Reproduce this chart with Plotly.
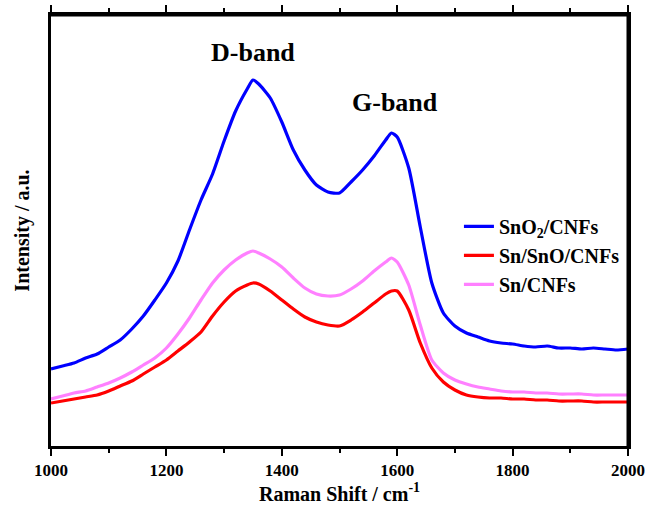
import plotly.graph_objects as go

# Raman shift (cm^-1)
raman_shift = [1000, 1020, 1040, 1060, 1080, 1100, 1120, 1140, 1160, 1180, 1200, 1220, 1240,
               1260, 1280, 1300, 1320, 1340, 1350, 1360, 1380, 1400, 1420, 1440, 1460, 1480,
               1500, 1520, 1540, 1560, 1580, 1590, 1600, 1620, 1640, 1660, 1680, 1700, 1720,
               1740, 1760, 1780, 1800, 1820, 1840, 1860, 1880, 1900, 1920, 1940, 1960, 1980, 2000]

# Intensities (a.u.)
sno2_cnfs = [77, 80, 83, 88, 92, 99, 106, 117, 130, 146, 163, 185, 216,
             246, 272, 305, 335, 357, 366, 362, 348, 324, 296, 276, 261, 254,
             253, 264, 276, 290, 306, 313, 309, 278, 219, 163, 133, 120, 113,
             109, 105, 103, 102, 100, 99, 100, 98, 98, 97, 98, 97, 96, 97]

sn_sno_cnfs = [43, 45, 47, 49, 51, 55, 60, 65, 72, 79, 86, 95, 104,
               114, 130, 144, 155, 161, 163, 162, 155, 146, 137, 129, 124, 121,
               120, 126, 134, 143, 152, 155, 155, 136, 103, 78, 64, 56, 51,
               49, 48, 48, 47, 47, 46, 46, 45, 45, 45, 44, 44, 44, 44]

sn_cnfs = [47, 50, 53, 55, 59, 63, 68, 74, 81, 88, 98, 112, 128,
           146, 163, 176, 186, 193, 195, 193, 187, 179, 168, 158, 152, 150,
           151, 157, 165, 175, 184, 188, 184, 161, 121, 86, 73, 66, 62,
           59, 57, 55, 54, 54, 53, 53, 52, 52, 52, 51, 51, 51, 51]

series_names = ["SnO<sub>2</sub>/CNFs", "Sn/SnO/CNFs", "Sn/CNFs"]
series_values = [sno2_cnfs, sn_sno_cnfs, sn_cnfs]
series_colors = ["#0000FF", "#FF0000", "#FF80FF"]

x_ticks = [1000, 1200, 1400, 1600, 1800, 2000]

FONT = "Liberation Serif, Times New Roman, serif"

fig = go.Figure()
for name, vals, col in zip(series_names, series_values, series_colors):
    fig.add_trace(go.Scatter(x=raman_shift, y=vals, mode="lines", name=name,
                             line=dict(color=col, width=3.2, shape="spline", smoothing=0.6)))

fig.add_annotation(x=1350, y=394, text="D-band", showarrow=False,
                   font=dict(family=FONT, size=26, color="black", weight="bold"))
fig.add_annotation(x=1596, y=344, text="G-band", showarrow=False,
                   font=dict(family=FONT, size=26, color="black", weight="bold"))

# plot frame: top and right edges
fig.add_shape(type="line", xref="paper", yref="paper", x0=0, x1=1, y0=1, y1=1,
              line=dict(color="black", width=3), layer="above")
fig.add_shape(type="line", xref="paper", yref="paper", x0=1, x1=1, y0=0, y1=1,
              line=dict(color="black", width=3), layer="above")

fig.update_layout(
    width=645, height=505,
    margin=dict(l=51, r=17, t=15, b=59, autoexpand=False),
    paper_bgcolor="white", plot_bgcolor="white",
    font=dict(family=FONT, color="black"),
    showlegend=True,
    legend=dict(x=0.707, y=0.555, xanchor="left", yanchor="top",
                bgcolor="rgba(0,0,0,0)",
                font=dict(family=FONT, size=20, color="black", weight="bold"),
                tracegroupgap=0),
    xaxis=dict(range=[1000, 2000], tickvals=x_ticks, automargin=False,
               showline=True, mirror="allticks", linecolor="black", linewidth=3,
               ticks="outside", ticklen=7, tickwidth=2, tickcolor="black",
               minor=dict(dtick=100, ticks="outside", ticklen=4, tickwidth=2, tickcolor="black"),
               showgrid=False, zeroline=False,
               tickfont=dict(family=FONT, size=17, color="black", weight="bold"),
               title=dict(text="Raman Shift / cm<sup>-1</sup>", standoff=6,
                          font=dict(family=FONT, size=20, color="black", weight="bold"))),
    yaxis=dict(range=[0, 431], showline=True, mirror=True, linecolor="black", linewidth=3,
               automargin=False,
               showticklabels=False, ticks="", showgrid=False, zeroline=False,
               title=dict(text="Intensity / a.u.", standoff=14,
                          font=dict(family=FONT, size=20, color="black", weight="bold"))),
)

fig.write_html("out.html")
